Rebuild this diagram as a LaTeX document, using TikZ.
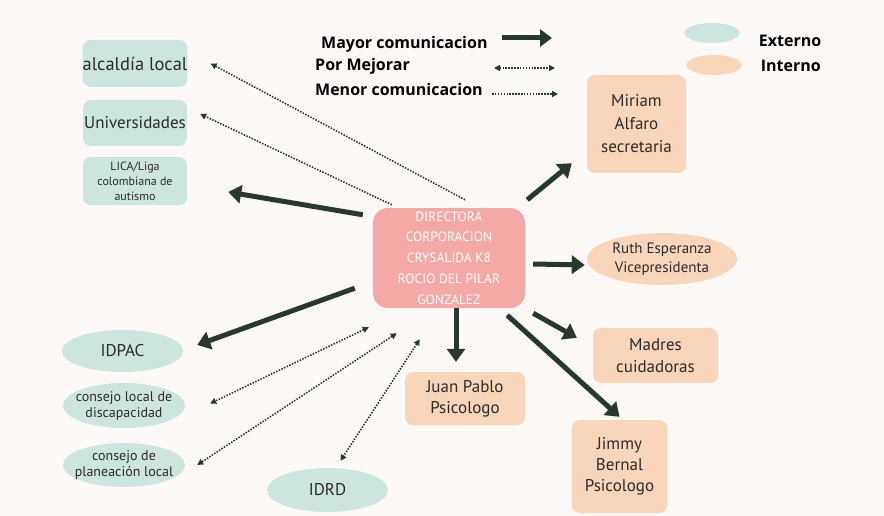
\documentclass[tikz,border=0pt]{standalone}
\usepackage{fontspec}
\setmainfont{PT Sans}
\newfontfamily\legfont{Open Sans}
\usetikzlibrary{arrows.meta,calc,shapes.geometric}
\definecolor{bg}{HTML}{FDF9F7}
\definecolor{teal}{HTML}{CDE5DF}
\definecolor{peach}{HTML}{F9D6B9}
\definecolor{pinkbox}{HTML}{F4A9A7}
\definecolor{arrowc}{HTML}{27392F}
\definecolor{txt}{HTML}{2B2B2B}
\tikzset{
  box/.style={rectangle, rounded corners=8pt, inner sep=0pt, align=center, text=txt},
  ext/.style={box, fill=teal},
  intr/.style={box, fill=peach},
  oval/.style={ellipse, inner sep=-20pt, align=center, text=txt},
  big/.style={draw=arrowc, line width=5pt, -{Triangle[width=18pt,length=13pt]}},
  dots/.style={draw=arrowc, line width=1.6pt, dash pattern=on 1.5pt off 1.4pt, -{Triangle[width=6pt,length=6pt]}},
  ddots/.style={dots, {Triangle[width=6pt,length=6pt]}-{Triangle[width=6pt,length=6pt]}},
  legtext/.style={anchor=west, inner sep=0pt, font=\legfont\bfseries\fontsize{16}{19}\selectfont, text=black},
}
\begin{document}
\begin{tikzpicture}[x=1pt,y=-1pt]
\fill[bg] (0,0) rectangle (884,516);
\useasboundingbox (0,0) rectangle (884,516);

% external nodes
\node[ext, minimum width=104pt, minimum height=47pt, font=\fontsize{18.5}{22}\selectfont] (alc) at (135,63.5) {alcaldía local};
\node[ext, minimum width=104pt, minimum height=46pt, font=\fontsize{17}{21}\selectfont] (univ) at (135,123) {Universidades};
\node[ext, minimum width=104pt, minimum height=48pt, font=\fontsize{12}{15}\selectfont] (lica) at (135,181) {LICA/Liga\\colombiana de\\autismo};
\node[oval, fill=teal, minimum width=121pt, minimum height=42pt, font=\fontsize{17}{21}\selectfont] (idpac) at (122.5,351) {IDPAC};
\node[oval, fill=teal, minimum width=122pt, minimum height=45pt, font=\fontsize{14}{16}\selectfont] (disc) at (124,405.5) {consejo local de\\discapacidad};
\node[oval, fill=teal, minimum width=122pt, minimum height=44pt, font=\fontsize{14}{16}\selectfont] (plan) at (124,465) {consejo de\\planeación local};
\node[oval, fill=teal, minimum width=121pt, minimum height=44pt, font=\fontsize{17}{21}\selectfont] (idrd) at (327.5,490) {IDRD};

% director
\node[box, fill=pinkbox, rounded corners=15pt, minimum width=152pt, minimum height=100pt, text=white, font=\fontsize{13.5}{20.8}\selectfont] (dir) at (449,258) {DIRECTORA\\CORPORACION\\CRYSALIDA K8\\ROCIO DEL PILAR\\GONZALEZ};

% internal nodes
\node[intr, minimum width=99pt, minimum height=98pt, font=\fontsize{17}{23}\selectfont] (mir) at (636.5,124) {Miriam\\Alfaro\\secretaria};
\node[oval, fill=peach, minimum width=150pt, minimum height=52pt, font=\fontsize{15}{19}\selectfont] (ruth) at (662,259) {Ruth Esperanza\\Vicepresidenta};
\node[intr, minimum width=125pt, minimum height=55pt, font=\fontsize{17}{22}\selectfont] (mad) at (655.5,355.5) {Madres\\cuidadoras};
\node[intr, minimum width=120pt, minimum height=53pt, font=\fontsize{17}{21}\selectfont] (juan) at (465,398.5) {Juan Pablo\\Psicologo};
\node[intr, minimum width=95pt, minimum height=93pt, font=\fontsize{17}{21}\selectfont] (jim) at (619.5,466.5) {Jimmy\\Bernal\\Psicologo};

% legend
\node[legtext] (lmay) at (321,44) {Mayor comunicacion};
\node[legtext] (lpor) at (315,66) {Por Mejorar};
\node[legtext] (lmen) at (315,90) {Menor comunicacion};
\draw[big, -{Triangle[width=17pt,length=12pt]}] ($(lmay.west)+(181,-6)$) -- ($(lmay.west)+(231,-6)$);
\draw[ddots] ($(lpor.west)+(179,2)$) -- ($(lpor.west)+(240,2)$);
\draw[dots] ($(lmen.west)+(177,4)$) -- ($(lmen.west)+(243,4)$);

\node[ellipse, fill=teal, minimum width=55pt, minimum height=20pt, inner sep=0pt] (lext) at (712,33) {};
\node[ellipse, fill=peach, minimum width=55pt, minimum height=20pt, inner sep=0pt] (lint) at (714,65) {};
\node[legtext] (text) at ($(lext.east)+(19,8)$) {Externo};
\node[legtext] (tint) at ($(lint.east)+(19,1)$) {Interno};

% strong arrows
\draw[big] ($(dir.north west)+(-10,7)$) -- ($(lica.east)+(41,11)$);
\draw[big] ($(dir.north east)+(2,-8)$) -- ($(mir.south west)+(-15,-10)$);
\draw[big] ($(dir.east)+(8,6)$) -- ($(ruth.west)+(-2,6)$);
\draw[big] ($(dir.south west)+(-18,-20)$) -- ($(idpac.east)+(14,-6)$);
\draw[big] ($(dir.south)+(7,0)$) -- ($(juan.north)+(-9,-10)$);
\draw[big] ($(dir.south east)+(8,5)$) -- ($(mad.north west)+(-16,10)$);
\draw[big] ($(dir.south east)+(-18,7)$) -- ($(jim.north)+(0,-3)$);

% weak arrows
\draw[dots] ($(dir.north)+(16,-8)$) -- ($(alc.east)+(23,0)$);
\draw[dots] ($(dir.north west)+(19,-3)$) -- ($(univ.east)+(13,-9)$);

% to improve
\draw[ddots] ($(dir.south west)+(-4,19)$) -- ($(disc.east)+(25,-2)$);
\draw[ddots] ($(dir.south west)+(24,25)$) -- ($(plan.east)+(12,0)$);
\draw[ddots] ($(dir.south west)+(47,31)$) -- ($(idrd.north)+(13,-7)$);
\end{tikzpicture}
\end{document}
